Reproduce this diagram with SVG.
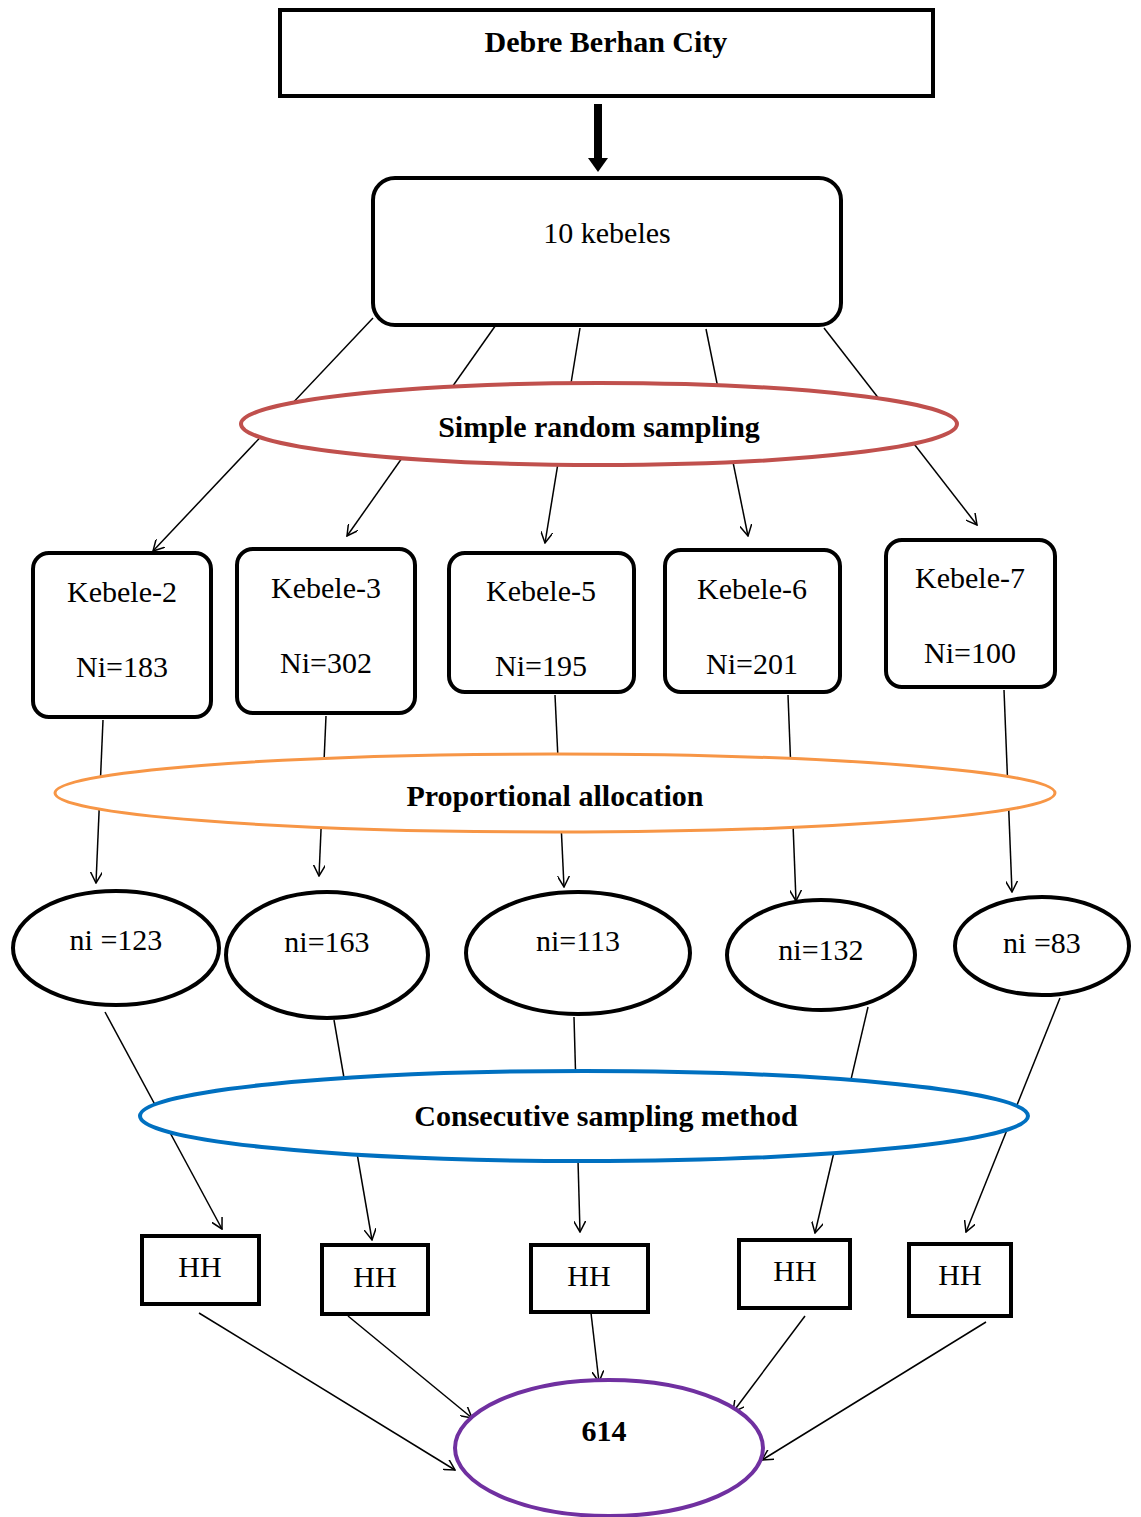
<svg xmlns="http://www.w3.org/2000/svg" width="1141" height="1517" viewBox="0 0 1141 1517">
<defs>
<style>
text{font-family:'Liberation Serif','DejaVu Serif',serif;font-size:30px;fill:#000;text-anchor:middle}
.b{font-weight:bold}
.bx{fill:#fff;stroke:#000;stroke-width:4}
.el{fill:#fff;stroke-width:4}
.c{stroke:#000;stroke-width:1.5;fill:none;marker-end:url(#ah)}
</style>
<marker id="ah" viewBox="0 0 12 12" refX="11" refY="6" markerWidth="12" markerHeight="12" markerUnits="userSpaceOnUse" orient="auto">
<path d="M0,0 L11,6 L0,12" fill="none" stroke="#000" stroke-width="1.5"/>
</marker>
</defs>
<rect width="1141" height="1517" fill="#fff"/>
<g id="connectors">
<line x1="598" y1="104" x2="598" y2="160" stroke="#000" stroke-width="8"/>
<path d="M588,158 L608,158 L598,172 Z" fill="#000"/>
<line class="c" x1="373" y1="318" x2="153" y2="551"/>
<line class="c" x1="498" y1="322" x2="347" y2="536"/>
<line class="c" x1="580" y1="328" x2="545" y2="543"/>
<line class="c" x1="706" y1="329" x2="748" y2="536"/>
<line class="c" x1="824" y1="328" x2="977" y2="525"/>
<line class="c" x1="103" y1="720" x2="96" y2="883"/>
<line class="c" x1="326" y1="716" x2="319" y2="876"/>
<line class="c" x1="555" y1="695" x2="564" y2="887"/>
<line class="c" x1="788" y1="695" x2="796" y2="901"/>
<line class="c" x1="1004" y1="690" x2="1012" y2="892"/>
<line class="c" x1="105" y1="1012" x2="222" y2="1229"/>
<line class="c" x1="334" y1="1020" x2="372" y2="1240"/>
<line class="c" x1="574" y1="1017" x2="580" y2="1232"/>
<line class="c" x1="868" y1="1007" x2="815" y2="1233"/>
<line class="c" x1="1060" y1="998" x2="966" y2="1232"/>
<line class="c" x1="199" y1="1313" x2="455" y2="1470"/>
<line class="c" x1="348" y1="1316" x2="472" y2="1418"/>
<line class="c" x1="591" y1="1313" x2="599" y2="1382"/>
<line class="c" x1="805" y1="1316" x2="733" y2="1412"/>
<line class="c" x1="986" y1="1322" x2="762" y2="1460"/>
</g>
<g id="city"><rect class="bx" x="280" y="10" width="653" height="86"/><text class="b" x="606" y="52">Debre Berhan City</text></g>
<g id="kebeles10"><rect class="bx" x="373" y="178" width="468" height="147" rx="22"/><text x="607" y="243">10 kebeles</text></g>
<g id="srs"><ellipse class="el" cx="599" cy="424" rx="358" ry="41" style="stroke:#C0504D"/><text class="b" x="599" y="437">Simple random sampling</text></g>
<g id="k2"><rect class="bx" x="33" y="553" width="178" height="164" rx="16"/><text x="122" y="602">Kebele-2</text><text x="122" y="677">Ni=183</text></g>
<g id="k3"><rect class="bx" x="237" y="549" width="178" height="164" rx="16"/><text x="326" y="598">Kebele-3</text><text x="326" y="673">Ni=302</text></g>
<g id="k5"><rect class="bx" x="449" y="553" width="185" height="139" rx="16"/><text x="541" y="601">Kebele-5</text><text x="541" y="676">Ni=195</text></g>
<g id="k6"><rect class="bx" x="665" y="550" width="175" height="142" rx="16"/><text x="752" y="599">Kebele-6</text><text x="752" y="674">Ni=201</text></g>
<g id="k7"><rect class="bx" x="886" y="540" width="169" height="147" rx="16"/><text x="970" y="588">Kebele-7</text><text x="970" y="663">Ni=100</text></g>
<g id="prop"><ellipse class="el" cx="555" cy="793" rx="500" ry="39" style="stroke:#F79646;stroke-width:3"/><text class="b" x="555" y="806">Proportional allocation</text></g>
<g id="n1"><ellipse class="el" cx="116" cy="948" rx="103" ry="57" style="stroke:#000"/><text x="116" y="950">ni =123</text></g>
<g id="n2"><ellipse class="el" cx="327" cy="955" rx="101" ry="63" style="stroke:#000"/><text x="327" y="952">ni=163</text></g>
<g id="n3"><ellipse class="el" cx="578" cy="953" rx="112" ry="61" style="stroke:#000"/><text x="578" y="951">ni=113</text></g>
<g id="n4"><ellipse class="el" cx="821" cy="955" rx="94" ry="55" style="stroke:#000"/><text x="821" y="960">ni=132</text></g>
<g id="n5"><ellipse class="el" cx="1042" cy="946" rx="87" ry="49" style="stroke:#000"/><text x="1042" y="953">ni =83</text></g>
<g id="consec"><ellipse class="el" cx="584" cy="1116" rx="444" ry="45" style="stroke:#0070C0"/><text class="b" x="606" y="1126">Consecutive sampling method</text></g>
<g id="hh1"><rect class="bx" x="142" y="1236" width="117" height="68"/><text x="200" y="1277">HH</text></g>
<g id="hh2"><rect class="bx" x="322" y="1245" width="106" height="69"/><text x="375" y="1287">HH</text></g>
<g id="hh3"><rect class="bx" x="531" y="1245" width="117" height="67"/><text x="589" y="1286">HH</text></g>
<g id="hh4"><rect class="bx" x="739" y="1240" width="111" height="68"/><text x="795" y="1281">HH</text></g>
<g id="hh5"><rect class="bx" x="909" y="1244" width="102" height="72"/><text x="960" y="1285">HH</text></g>
<g id="total"><ellipse class="el" cx="609" cy="1448" rx="154" ry="68" style="stroke:#7030A0"/><text class="b" x="604" y="1441">614</text></g>
</svg>
